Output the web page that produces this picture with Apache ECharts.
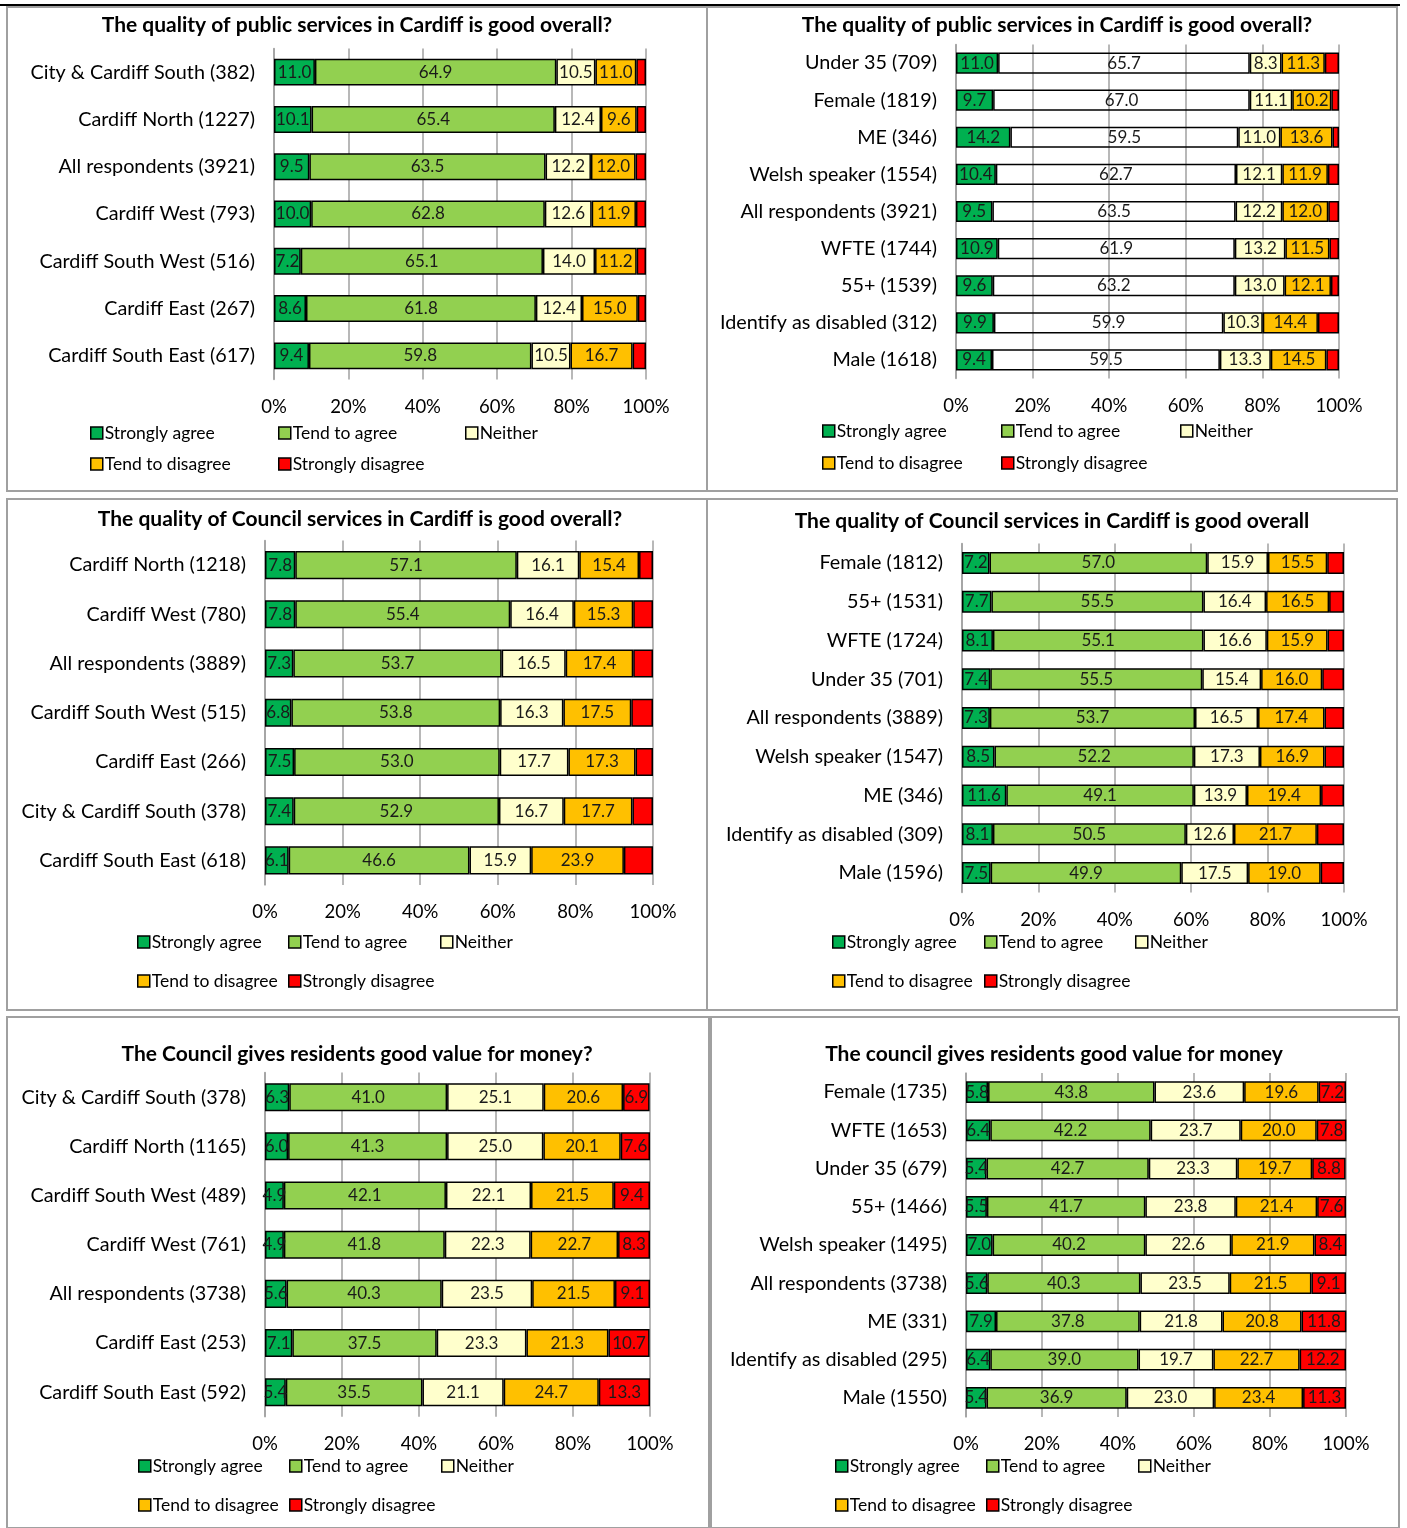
<!DOCTYPE html>
<html>
<head>
<meta charset="utf-8">
<script src="https://cdn.jsdelivr.net/npm/echarts@6/dist/echarts.min.js"></script>
<style>
  html, body { margin: 0; padding: 0; background: #fff; }
  #chart { width: 1407px; height: 1528px; }
</style>
</head>
<body>
<div id="chart"></div>
<script>
// series names, shared by all six panels
const answerNames = ['Strongly agree', 'Tend to agree', 'Neither', 'Tend to disagree', 'Strongly disagree'];
const answerColors = ['#00b050', '#92d050', '#ffffcc', '#ffc000', '#ff0000'];
const pctTicks = [0, 20, 40, 60, 80, 100];

// panel 1 - public services, by area
const p1Title = 'The quality of public services in Cardiff is good overall?';
const p1Labels = ['City & Cardiff South (382)', 'Cardiff North (1227)', 'All respondents (3921)', 'Cardiff West (793)', 'Cardiff South West (516)', 'Cardiff East (267)', 'Cardiff South East (617)'];
const p1StronglyAgree = [11.0, 10.1, 9.5, 10.0, 7.2, 8.6, 9.4];
const p1TendAgree = [64.9, 65.4, 63.5, 62.8, 65.1, 61.8, 59.8];
const p1Neither = [10.5, 12.4, 12.2, 12.6, 14.0, 12.4, 10.5];
const p1TendDisagree = [11.0, 9.6, 12.0, 11.9, 11.2, 15.0, 16.7];
const p1StronglyDisagree = [2.6, 2.5, 2.8, 2.7, 2.5, 2.2, 3.6];

// panel 2 - public services, by group
const p2Title = 'The quality of public services in Cardiff is good overall?';
const p2Labels = ['Under 35 (709)', 'Female (1819)', 'ME (346)', 'Welsh speaker (1554)', 'All respondents (3921)', 'WFTE (1744)', '55+ (1539)', 'Identify as disabled (312)', 'Male (1618)'];
const p2StronglyAgree = [11.0, 9.7, 14.2, 10.4, 9.5, 10.9, 9.6, 9.9, 9.4];
const p2TendAgree = [65.7, 67.0, 59.5, 62.7, 63.5, 61.9, 63.2, 59.9, 59.5];
const p2Neither = [8.3, 11.1, 11.0, 12.1, 12.2, 13.2, 13.0, 10.3, 13.3];
const p2TendDisagree = [11.3, 10.2, 13.6, 11.9, 12.0, 11.5, 12.1, 14.4, 14.5];
const p2StronglyDisagree = [3.7, 2.0, 1.7, 2.9, 2.8, 2.5, 2.1, 5.5, 3.3];

// panel 3 - council services, by area
const p3Title = 'The quality of Council services in Cardiff is good overall?';
const p3Labels = ['Cardiff North (1218)', 'Cardiff West (780)', 'All respondents (3889)', 'Cardiff South West (515)', 'Cardiff East (266)', 'City & Cardiff South (378)', 'Cardiff South East (618)'];
const p3StronglyAgree = [7.8, 7.8, 7.3, 6.8, 7.5, 7.4, 6.1];
const p3TendAgree = [57.1, 55.4, 53.7, 53.8, 53.0, 52.9, 46.6];
const p3Neither = [16.1, 16.4, 16.5, 16.3, 17.7, 16.7, 15.9];
const p3TendDisagree = [15.4, 15.3, 17.4, 17.5, 17.3, 17.7, 23.9];
const p3StronglyDisagree = [3.6, 5.1, 5.1, 5.6, 4.5, 5.3, 7.5];

// panel 4 - council services, by group
const p4Title = 'The quality of Council services in Cardiff is good overall';
const p4Labels = ['Female (1812)', '55+ (1531)', 'WFTE (1724)', 'Under 35 (701)', 'All respondents (3889)', 'Welsh speaker (1547)', 'ME (346)', 'Identify as disabled (309)', 'Male (1596)'];
const p4StronglyAgree = [7.2, 7.7, 8.1, 7.4, 7.3, 8.5, 11.6, 8.1, 7.5];
const p4TendAgree = [57.0, 55.5, 55.1, 55.5, 53.7, 52.2, 49.1, 50.5, 49.9];
const p4Neither = [15.9, 16.4, 16.6, 15.4, 16.5, 17.3, 13.9, 12.6, 17.5];
const p4TendDisagree = [15.5, 16.5, 15.9, 16.0, 17.4, 16.9, 19.4, 21.7, 19.0];
const p4StronglyDisagree = [4.4, 3.9, 4.3, 5.7, 5.1, 5.1, 6.0, 7.1, 6.1];

// panel 5 - value for money, by area
const p5Title = 'The Council gives residents good value for money?';
const p5Labels = ['City & Cardiff South (378)', 'Cardiff North (1165)', 'Cardiff South West (489)', 'Cardiff West (761)', 'All respondents (3738)', 'Cardiff East (253)', 'Cardiff South East (592)'];
const p5StronglyAgree = [6.3, 6.0, 4.9, 4.9, 5.6, 7.1, 5.4];
const p5TendAgree = [41.0, 41.3, 42.1, 41.8, 40.3, 37.5, 35.5];
const p5Neither = [25.1, 25.0, 22.1, 22.3, 23.5, 23.3, 21.1];
const p5TendDisagree = [20.6, 20.1, 21.5, 22.7, 21.5, 21.3, 24.7];
const p5StronglyDisagree = [6.9, 7.6, 9.4, 8.3, 9.1, 10.7, 13.3];

// panel 6 - value for money, by group
const p6Title = 'The council gives residents good value for money';
const p6Labels = ['Female (1735)', 'WFTE (1653)', 'Under 35 (679)', '55+ (1466)', 'Welsh speaker (1495)', 'All respondents (3738)', 'ME (331)', 'Identify as disabled (295)', 'Male (1550)'];
const p6StronglyAgree = [5.8, 6.4, 5.4, 5.5, 7.0, 5.6, 7.9, 6.4, 5.4];
const p6TendAgree = [43.8, 42.2, 42.7, 41.7, 40.2, 40.3, 37.8, 39.0, 36.9];
const p6Neither = [23.6, 23.7, 23.3, 23.8, 22.6, 23.5, 21.8, 19.7, 23.0];
const p6TendDisagree = [19.6, 20.0, 19.7, 21.4, 21.9, 21.5, 20.8, 22.7, 23.4];
const p6StronglyDisagree = [7.2, 7.8, 8.8, 7.6, 8.4, 9.1, 11.8, 12.2, 11.3];

const panels = [
  { title: p1Title, labels: p1Labels, data: [p1StronglyAgree, p1TendAgree, p1Neither, p1TendDisagree, p1StronglyDisagree] },
  { title: p2Title, labels: p2Labels, data: [p2StronglyAgree, p2TendAgree, p2Neither, p2TendDisagree, p2StronglyDisagree] },
  { title: p3Title, labels: p3Labels, data: [p3StronglyAgree, p3TendAgree, p3Neither, p3TendDisagree, p3StronglyDisagree] },
  { title: p4Title, labels: p4Labels, data: [p4StronglyAgree, p4TendAgree, p4Neither, p4TendDisagree, p4StronglyDisagree] },
  { title: p5Title, labels: p5Labels, data: [p5StronglyAgree, p5TendAgree, p5Neither, p5TendDisagree, p5StronglyDisagree] },
  { title: p6Title, labels: p6Labels, data: [p6StronglyAgree, p6TendAgree, p6Neither, p6TendDisagree, p6StronglyDisagree] }
];

// layout of each panel on the page
const layout = [
  { box: [7, 7, 700, 484], title: [357, 24], grid: [274, 48.5, 372, 331], legRows: [432, 463], legCols: [90, 278, 465] },
  { box: [707, 7, 690, 484], title: [1057, 24], grid: [956, 44.5, 383, 334], legRows: [430, 462], legCols: [822, 1001, 1180] },
  { box: [7, 499, 700, 511], title: [360, 518], grid: [265, 540.5, 388, 344.5], legRows: [941, 980], legCols: [137, 288, 440] },
  { box: [707, 499, 690, 511], title: [1052, 520], grid: [962, 543.6, 382, 348.8], legRows: [941, 980], legCols: [832, 984, 1135] },
  { box: [7, 1017, 702, 511], title: [357, 1053], grid: [265, 1072.6, 385, 344.2], legRows: [1465, 1504], legCols: [138, 289, 441] },
  { box: [711, 1017, 688, 511], title: [1054, 1053], grid: [966, 1073, 380, 344], legRows: [1465, 1504], legCols: [835, 986, 1138] }
];

const FONT = 'Lato, "Open Sans", sans-serif';
const legendSlots = [[0, 0], [0, 1], [0, 2], [1, 0], [1, 1]];

const grids = [], xAxes = [], yAxes = [], series = [], legends = [], graphics = [];

graphics.push({ type: 'line', shape: { x1: 0, y1: 5, x2: 1400, y2: 5 }, style: { stroke: '#000', lineWidth: 2 } });

panels.forEach(function (p, i) {
  const L = layout[i];
  graphics.push({
    type: 'rect',
    shape: { x: L.box[0], y: L.box[1], width: L.box[2], height: L.box[3] },
    style: { fill: 'none', stroke: '#a0a0a0', lineWidth: 2 }
  });
  graphics.push({
    type: 'text', x: L.title[0], y: L.title[1] + 1,
    style: { text: p.title, font: 'bold 21px ' + FONT, fill: '#000', align: 'center', verticalAlign: 'middle' }
  });

  grids.push({ left: L.grid[0], top: L.grid[1], width: L.grid[2], height: L.grid[3] });
  xAxes.push({
    gridIndex: i, type: 'value', min: pctTicks[0], max: pctTicks[pctTicks.length - 1], interval: 20,
    axisLine: { show: false }, axisTick: { show: false },
    splitLine: { show: true, lineStyle: { color: '#a0a0a0', width: 1.5 } },
    axisLabel: { formatter: '{value}%', color: '#000', fontSize: 18.5, fontFamily: FONT, margin: 18 }
  });
  yAxes.push({
    gridIndex: i, type: 'category', inverse: true, data: p.labels,
    axisLine: { show: true, lineStyle: { color: '#a0a0a0', width: 1.5 } }, axisTick: { show: false },
    axisLabel: { color: '#000', fontSize: 19.8, fontFamily: FONT, margin: 19 }
  });

  answerNames.forEach(function (name, k) {
    // the red segment only carries a label in the value-for-money charts
    const showLabel = k < 4 || i >= 4;
    // in the second chart the "Tend to agree" bars come out unfilled
    const fill = (i === 1 && k === 1) ? 'rgba(0,0,0,0)' : answerColors[k];
    series.push({
      name: name, type: 'bar', stack: 'p' + i, xAxisIndex: i, yAxisIndex: i,
      data: p.data[k], barWidth: '57%',
      itemStyle: { color: fill, borderColor: '#000', borderWidth: 1.5 },
      label: {
        show: showLabel, position: 'inside', color: '#1a1a1a', fontSize: 17, fontFamily: FONT,
        formatter: function (d) { return d.value.toFixed(1); }
      },
      emphasis: { disabled: true }, animation: false
    });
  });

  legendSlots.forEach(function (slot, k) {
    legends.push({
      left: L.legCols[slot[1]], top: L.legRows[slot[0]] - 8,
      padding: 0, itemWidth: 12, itemHeight: 12, itemGap: 0, selectedMode: false,
      icon: 'rect',
      textStyle: { color: '#000', fontSize: 17.5, fontFamily: FONT, padding: [0, 0, 0, -3] },
      data: [{ name: answerNames[k], itemStyle: { color: answerColors[k], borderColor: '#000', borderWidth: 1.5 } }]
    });
  });
});

const chart = echarts.init(document.getElementById('chart'), null, { renderer: 'canvas' });
chart.setOption({
  backgroundColor: '#fff',
  animation: false,
  grid: grids,
  xAxis: xAxes,
  yAxis: yAxes,
  legend: legends,
  series: series,
  graphic: graphics
});
</script>
</body>
</html>
